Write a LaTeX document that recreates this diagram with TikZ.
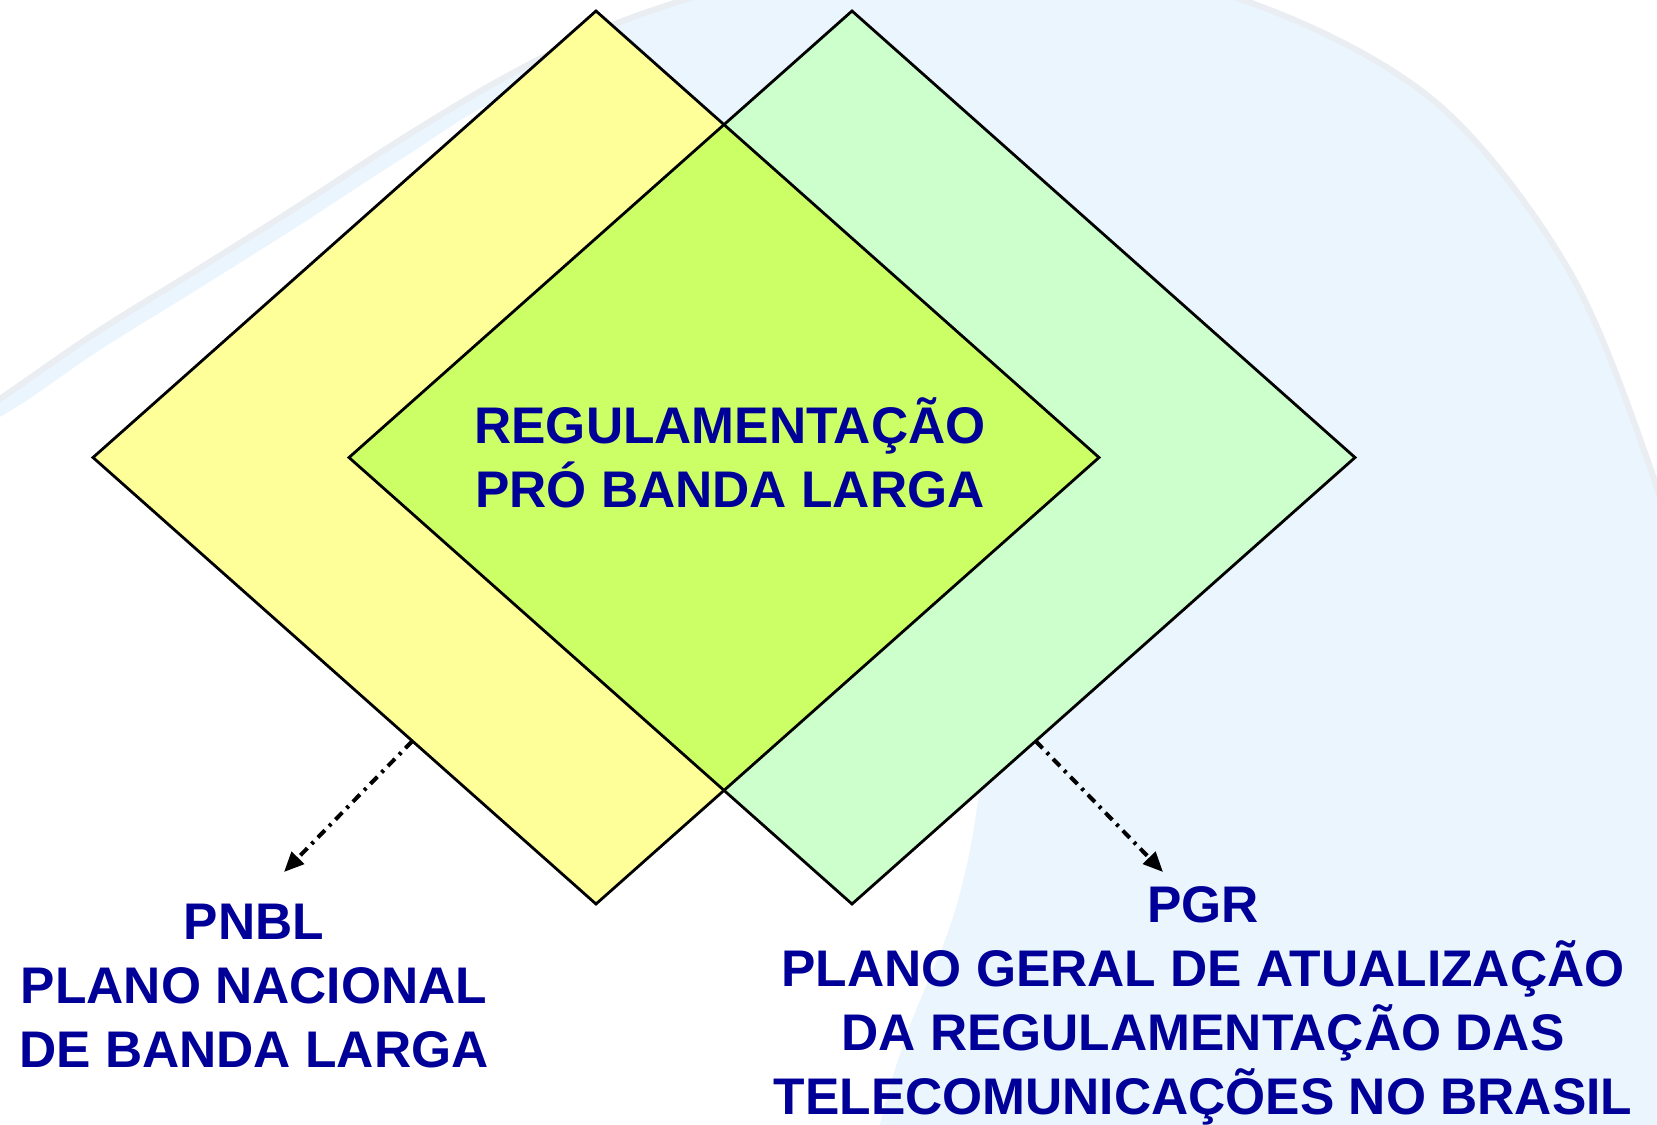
\documentclass[tikz,border=0pt]{standalone}
\usepackage{fontspec}
\setmainfont{Liberation Sans}
\usetikzlibrary{arrows.meta}

\definecolor{navytext}{RGB}{0,0,153}
\definecolor{pnblyellow}{RGB}{255,255,153}
\definecolor{pgrgreen}{RGB}{204,255,204}
\definecolor{overlapgreen}{RGB}{204,255,102}
\definecolor{globeblue}{RGB}{235,245,254}
\definecolor{globeedge}{RGB}{234,237,241}

\tikzset{
  plantext/.style={font=\fontsize{25.75}{32}\selectfont\bfseries, text=navytext, align=center, inner sep=0pt, anchor=base},
  planarrow/.style={line width=2pt, dash pattern=on 5pt off 3pt on 1.5pt off 3pt, -{Triangle[length=10pt,width=8.5pt]}},
  planedge/.style={draw=black, line width=1.4pt, line join=miter},
}

\begin{document}
\begin{tikzpicture}[x=0.5pt,y=0.5pt,yscale=-1,xscale=1]

\useasboundingbox (0,0) rectangle (1657,1124);

% faint globe behind the plans
\begin{scope}
\clip (0,0) rectangle (1657,1124);
\fill [globeblue] plot [smooth, tension=0.55] coordinates {(-30,420) (20,385) (100,330) (200,268) (300,205) (400,140) (500,80) (600,30) (700,-5) (800,-30) (1000,-50) (1243,0) (1433,100) (1567,267) (1650,467) (1700,640)} -- (1750,1200) -- (-50,1200) -- cycle;
\draw [globeedge, line width=3pt] plot [smooth, tension=0.55] coordinates {(-30,420) (20,385) (100,330) (200,268) (300,205) (400,140) (500,80) (600,30) (700,-5) (800,-30) (1000,-50) (1243,0) (1433,100) (1567,267) (1650,467) (1700,640)};
\fill [white] plot [smooth, tension=0.55] coordinates {(-50,445) (20,405) (100,350) (200,288) (300,225) (400,160) (500,100) (580,100) (700,170) (880,380) (990,650) (977,807) (953,917) (907,1033) (880,1124) (870,1200)} -- (-60,1200) -- cycle;
\end{scope}

% PNBL and PGR squares
\coordinate (yt) at (596,11);
\coordinate (yl) at (93,457.5);
\coordinate (yb) at (596,904);
\coordinate (yr) at (1099,457.5);
\coordinate (gt) at (852,11);
\coordinate (gl) at (349,457.5);
\coordinate (gb) at (852,904);
\coordinate (gr) at (1355,457.5);

\fill [pnblyellow] (yt) -- (yr) -- (yb) -- (yl) -- cycle;
\fill [pgrgreen] (gt) -- (gr) -- (gb) -- (gl) -- cycle;
\begin{scope}
\clip (yt) -- (yr) -- (yb) -- (yl) -- cycle;
\fill [overlapgreen] (gt) -- (gr) -- (gb) -- (gl) -- cycle;
\end{scope}
\draw [planedge] (yt) -- (yr) -- (yb) -- (yl) -- cycle;
\draw [planedge] (gt) -- (gr) -- (gb) -- (gl) -- cycle;

% base anchor sits on the last line
\node [plantext] (reg) at (730,507) {REGULAMENTAÇÃO\\PRÓ BANDA LARGA};

\node [plantext] (pnbl) at (254,1067) {PNBL\\PLANO NACIONAL\\DE BANDA LARGA};
\node [plantext] (pgr) at (1203,1114) {PGR\\PLANO GERAL DE ATUALIZAÇÃO\\DA REGULAMENTAÇÃO DAS\\TELECOMUNICAÇÕES NO BRASIL};

% arrows out of the squares
\path (yl) -- (yb) coordinate [pos=0.635] (pnblfrom);
\path (gr) -- (gb) coordinate [pos=0.635] (pgrfrom);
\coordinate (pnblto) at (284,872);
\coordinate (pgrto) at (1163,872);
\draw [planarrow] (pnblfrom) -- (pnblto);
\draw [planarrow] (pgrfrom) -- (pgrto);

\end{tikzpicture}
\end{document}
